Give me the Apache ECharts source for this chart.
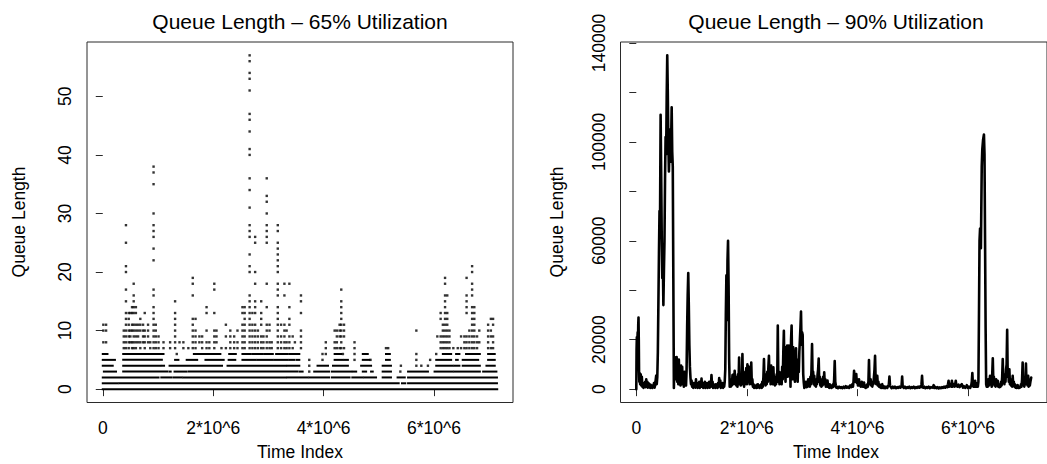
<!DOCTYPE html>
<html><head><meta charset="utf-8">
<script src="https://cdn.jsdelivr.net/npm/echarts@6/dist/echarts.min.js"></script>
<style>html,body{margin:0;padding:0;background:#fff}#c{width:1047px;height:464px}</style>
</head><body><div id="c"></div>
<script>
// ---- units: time positions are stored in units of 1e5; 90% queue values in thousands
const TIME_UNIT = 1e5;
const Q90_UNIT = 1000;

const xTickValues = [0, 2e6, 4e6, 6e6];
const xTickLabels = ['0', '2*10^6', '4*10^6', '6*10^6'];
const yTicks65 = [0, 10, 20, 30, 40, 50];
const yTicks90 = [0, 20000, 40000, 60000, 80000, 100000, 120000, 140000];
const yLabels90 = [0, 20000, 60000, 100000, 140000];

const titles = ['Queue Length \u2013 65% Utilization', 'Queue Length \u2013 90% Utilization'];
const xAxisTitle = 'Time Index';
const yAxisTitle = 'Queue Length';

// ---- 65% utilization: runs of consecutive observations at low queue levels ([start,end] or single position)
const runsQ0 = [[0, 71.45]];
const runsQ1 = [[0, 2.7], [3.0, 53.6], [54.2, 54.8], [55.3, 71.4]];
const runsQ2 = [[0, 10.1], [10.6, 12.5], [12.9, 14.3], [14.6, 33.2], [33.5, 37.1], [37.4, 41.0], [41.5, 44.7], [45.2, 47.1], [47.4, 49.5], [50.7, 52.2], [53.4, 54.7], [55.3, 71.4]];
const runsQ3 = [[0.2, 2.4], [3.7, 11.7], [12.1, 12.3], [13.0, 15.2], [15.6, 35.3], [35.7, 36.2], 37.4, [38.3, 41.0], [41.5, 45.0], [45.3, 45.9], [47.1, 47.7], [48.6, 48.9], [50.7, 52.2], 53.9, [55.3, 58.9], [60.1, 63.4], [63.7, 68.3], [68.9, 71.3]];
const runsQ4 = [[0, 1.8], [3.7, 10.4], [10.7, 11.1], [12.1, 21.6], [22.6, 33.2], [33.5, 35.6], 37.4, [38.9, 40.8], [41.7, 44.4], [46.8, 48.6], [50.7, 52.2], 54.0, 56.8, 57.7, 58.9, [60.4, 63.4], [63.7, 64.6], [65.2, 68.3], [69.5, 71.0]];
const runsQ5 = [[0, 2.2], [3.7, 10.7], [13.1, 13.7], [15.2, 17.1], [18.6, 21.9], [22.8, 24.0], [25.3, 27.7], [28.0, 30.8], [31.1, 33.5], [33.8, 34.7], [35.1, 35.6], 37.4, 39.8, [42.0, 43.5], [43.8, 44.4], 45.6, 48.5, [47.1, 48.3], [51.3, 52.0], 56.8, 59.3, [60.4, 63.1], [64.0, 64.3], [65.2, 68.0], [69.8, 71.0]];
const runsQ6 = [[0, 0.85], [3.7, 11.0], 13.4, [16.5, 20.7], [21.0, 21.3], [22.9, 24.1], [25.3, 26.8], [27.1, 29.0], [29.3, 30.8], [31.4, 33.5], [33.8, 35.6], 39.8, 40.4, [42.0, 43.2], 43.5, 45.6, [47.1, 48.0], [51.3, 52.0], 56.8, 60.4, [61.6, 63.1], [64.0, 64.6], [65.8, 68.3], [69.8, 71.0]];

// ---- 65% utilization: isolated observations at higher levels (time position, levels seen there)
const colX65 = [0.1, 0.6, 3.8, 4.2, 4.7, 5.0, 5.3, 5.6, 6.0, 6.4, 6.8, 7.3, 7.6, 8.2, 8.6, 9.2, 9.6, 10.1, 11.0, 12.2, 13.1, 13.9, 14.6, 15.5, 16.3, 16.8, 17.5, 18.0, 18.8, 19.3, 20.2, 20.6, 21.5, 22.3, 23.1, 23.8, 24.4, 25.3, 25.7, 26.6, 27.1, 27.6, 28.1, 28.7, 29.1, 29.7, 30.2, 30.6, 31.7, 32.3, 32.9, 33.3, 33.8, 34.4, 34.8, 35.9, 40.4, 42.0, 42.4, 42.9, 43.2, 43.7, 45.6, 51.3, 51.7, 56.8, 60.6, 61.2, 61.6, 62.0, 62.4, 62.8, 63.5, 64.3, 64.9, 65.5, 65.9, 66.4, 66.9, 67.3, 67.8, 68.2, 69.8, 70.3, 70.7];
const colLevels65 = [
  [8, 10, 11], [8, 10, 11], [7, 8, 9, 10], [7, 8, 9, 10, 11, 12, 13, 15, 17, 20, 21, 25, 28], [7, 8, 9, 10, 11, 12, 13], [8, 9, 10, 13], [7, 8, 10, 11, 13, 14], [7, 8, 9, 10, 11, 13, 14, 15, 16, 18], [7, 8, 9, 10, 11, 13, 14], [8, 9, 10, 11], [7, 8, 10, 11, 12], [8, 9, 10, 11], [7, 8, 9, 10, 13], [8, 9, 10, 11], [7, 8],
  [7, 8, 9, 10, 11, 12, 13, 14, 16, 17, 22, 24, 26, 27, 28, 30, 35, 37, 38], [7, 8, 9, 10, 11], [7, 8, 9], [7, 8], [7, 8], [7, 8, 9, 10, 11, 12, 13, 15], [8], [7, 8], [7], [7, 8, 9, 10, 11, 12, 16, 18, 19], [7, 8, 9, 10, 12], [8, 9], [7, 8, 9], [7, 8, 10, 13, 14], [7, 8], [7, 8, 9, 10, 13, 17, 18], [8, 9, 10], [7], [7, 9, 11], [7, 8, 9, 10], [7, 8, 9], [7, 8, 10],
  [7, 8, 9, 10, 11, 13, 14], [7, 8, 9, 10, 11, 12, 13, 14],
  [7, 8, 9, 10, 11, 12, 13, 14, 15, 16, 20, 21, 23, 26, 27, 28, 31, 34, 36, 40, 41, 44, 46, 47, 51, 53, 54, 56, 57],
  [7, 8, 9, 10, 11, 13], [7, 8, 9, 10, 11, 13, 14, 15, 18, 20, 25, 26], [7, 8, 9, 10], [7, 8, 9, 11, 12, 13, 15], [7, 8, 9],
  [7, 8, 9, 10, 11, 14, 18, 25, 26, 27, 28, 30, 32, 33, 36], [7, 8, 10, 11], [7, 8],
  [7, 8, 9, 10, 11, 12, 13, 14, 16, 17, 18, 20, 21, 22, 23, 24, 25, 27, 28], [7, 8, 9, 11], [7, 8, 9, 10, 11, 16, 18], [7, 8, 10], [7, 8, 9, 11, 12, 14, 18], [7, 9], [8], [7, 8, 9, 10, 13, 15, 16],
  [7, 8], [7, 8, 10], [7, 8, 9, 10], [7, 9, 10, 11], [7, 8, 9, 10, 11, 12, 13, 14, 15, 17], [7, 9, 10, 11], [7, 8], [7], [7], [10], [9],
  [7, 8, 9, 12, 13], [7, 8, 9, 10, 11], [7, 8, 9, 10, 11, 12, 13, 14, 15, 16, 18, 19], [7, 8, 9, 10, 11, 12, 13, 16], [7, 8, 9, 10], [7], [7], [7, 9], [7, 8, 9], [7, 8, 9, 13, 14, 15, 16, 19], [7, 8, 9, 10],
  [7, 8, 9, 10, 11, 12, 13, 14, 16, 17, 18, 20, 21], [7, 8, 9, 10, 11, 12, 13, 14], [7, 8, 9], [8, 10], [7, 8, 9, 10, 11], [7, 9, 10, 12], [7, 8, 9, 11, 12]
];

// ---- 90% utilization: time position (1e5) and queue length (thousands)
const t90 = [0,0.05,0.1,0.15,0.2,0.25,0.3,0.35,0.4,0.45,0.5,0.55,0.6,0.7,0.8,0.9,1.0,1.1,1.2,1.3,1.4,1.5,1.6,1.7,1.8,1.9,2.0,2.1,2.2,2.3,2.4,2.5,2.6,2.7,2.8,2.9,3.0,3.1,3.2,3.3,3.4,3.5,3.6,3.7,3.8,3.9,4.0,4.1,4.2,4.3,4.4,4.5,4.6,4.7,4.8,4.9,5.0,5.1,5.2,5.3,5.4,5.5,5.6,5.7,5.8,5.9,6.0,6.1,6.2,6.3,6.4,6.5,6.6,6.7,6.8,
6.9,7.0,7.1,7.2,7.3,7.4,7.5,7.6,7.7,7.8,7.9,8.0,8.1,8.2,8.3,8.4,8.5,8.6,8.7,8.8,8.9,9.0,9.1,9.2,9.3,9.4,9.5,9.6,9.7,9.8,9.9,
10.0,10.1,10.2,10.3,10.4,10.5,10.6,10.7,10.8,10.9,11.0,11.1,11.2,11.3,11.4,11.5,11.6,11.7,11.8,11.9,12.0,12.1,12.2,12.3,12.4,12.5,12.6,12.7,12.8,12.9,13.0,13.1,13.2,13.3,13.4,13.5,13.6,13.7,13.8,13.9,14.0,14.1,14.2,14.3,14.4,14.5,14.6,14.7,14.8,14.9,15.0,15.1,15.2,15.3,15.4,15.5,15.6,15.7,15.8,15.9,16.0,
16.1,16.2,16.3,16.4,16.5,16.6,16.7,16.8,16.9,
17.0,17.1,17.2,17.3,17.4,17.5,17.6,17.7,17.8,17.9,18.0,18.1,18.2,18.3,18.4,18.5,18.6,18.7,18.8,18.9,19.0,19.1,19.2,19.3,19.4,19.5,19.6,19.7,19.8,19.9,20.0,20.1,20.2,20.3,20.4,20.5,20.6,20.7,20.8,20.9,21.0,21.1,21.2,21.3,21.4,21.5,21.6,21.7,21.8,21.9,22.0,22.1,22.2,22.3,22.4,22.5,22.6,22.7,22.8,22.9,23.0,
23.1,23.2,23.3,23.4,23.5,23.6,23.7,23.8,23.9,24.0,24.1,24.2,24.3,24.4,24.5,24.6,24.7,24.8,24.9,25.0,25.1,25.2,25.3,25.4,25.5,25.6,25.7,25.8,25.9,26.0,26.1,26.2,26.3,26.4,26.5,26.6,26.7,26.8,26.9,27.0,27.1,27.2,27.3,27.4,27.5,27.6,27.7,27.8,27.9,28.0,28.1,28.2,28.3,28.4,28.5,28.6,28.7,28.8,28.9,29.0,29.1,29.2,29.3,29.4,29.5,29.6,29.7,29.8,29.9,30.0,30.1,30.2,30.3,30.4,
30.5,30.6,30.7,30.8,30.9,31.0,31.1,31.2,31.3,31.4,31.5,31.6,31.7,31.8,31.9,32.0,32.1,32.2,32.3,32.4,32.5,32.6,32.7,32.8,32.9,33.0,33.1,33.2,33.3,33.4,33.5,33.6,33.7,33.8,33.9,34.0,34.1,34.2,34.3,34.4,34.5,34.6,34.7,34.8,34.9,35.0,35.1,35.2,35.3,35.4,35.5,35.6,35.7,35.8,35.9,36.0,36.1,36.2,
36.3,36.5,36.7,36.9,37.1,37.3,37.5,37.7,37.9,38.1,38.3,38.5,38.7,38.9,39.1,39.2,39.3,
39.4,39.5,39.6,39.7,39.8,39.9,40.0,40.1,40.2,40.3,40.4,40.5,40.6,40.7,40.8,40.9,41.0,41.1,41.2,41.3,41.4,41.5,41.6,41.7,41.8,41.9,42.0,42.1,42.2,42.3,42.4,42.5,42.6,42.7,42.8,42.9,43.0,43.1,43.2,43.3,43.4,43.5,43.6,43.7,43.8,43.9,44.0,44.1,44.2,44.3,44.4,44.5,44.6,44.7,44.8,44.9,45.0,45.2,45.4,45.6,45.7,45.8,45.9,46.0,46.2,46.4,46.6,46.8,47.0,47.2,47.4,47.6,47.8,47.9,48.0,48.1,48.2,48.4,48.6,48.8,49.0,49.2,49.4,49.6,49.8,50.0,50.2,50.4,50.6,50.8,51.0,51.2,51.4,51.5,51.6,51.7,51.8,51.9,52.1,52.3,52.5,52.7,52.9,53.1,53.3,53.5,53.7,53.8,53.9,54.1,54.3,54.5,54.7,54.9,55.1,55.3,55.5,55.7,55.9,56.1,56.3,56.4,56.5,56.6,56.8,57.0,57.1,57.2,57.4,57.6,57.7,57.8,57.9,58.1,58.3,58.5,58.7,58.9,59.1,59.3,59.5,59.7,59.8,60.0,60.2,60.4,60.6,60.7,60.8,60.9,61.0,61.1,61.2,61.3,61.4,61.5,61.6,61.7,61.8,
61.9,62.0,62.1,62.2,62.35,62.5,62.6,62.75,62.9,63.0,63.1,63.2,63.3,
63.4,63.5,63.6,63.7,63.8,63.9,64.0,64.1,64.2,64.3,64.4,64.5,64.6,64.7,64.8,64.9,65.0,65.1,65.2,65.3,65.4,65.5,65.6,65.7,65.8,65.9,66.0,66.1,66.2,66.3,66.4,66.5,66.6,66.7,66.8,66.9,67.0,67.1,67.2,67.3,67.4,67.5,67.6,67.7,67.8,67.9,68.0,68.1,68.2,68.3,68.4,68.5,68.6,68.7,68.8,68.9,69.0,69.1,69.2,69.3,69.4,69.5,69.6,69.7,69.8,69.9,70.0,70.1,70.2,70.3,70.4,70.5,70.6,70.7,70.8,70.9,71.0,71.1,71.2,71.3,71.45];
const q90 = [0,16,21,14,20,23,18,26,29,20,7,3,6.5,2,6,1.5,5,1,2.5,0.5,2,1,3,0.8,4,1.5,3,0.6,2.5,1,2,0.5,1.8,0.8,1.5,0.5,1.5,1,2.5,0.6,1.5,3.5,5.5,2,5,15,35,55,72,70,111,88,62,45,52,34,48,60,85,102,95,118,135,120,100,88,97,105,92,100,114,96,90,45,0.5,
13,5,12.5,4,13,3,10,2,12,3,6,1.5,9.5,2.5,9,2,6,1,7,2,5,1.5,8,25,38,47,34,18,9,4.7,2,
3.5,1,2,0.5,2.5,1,2,0.6,4,1,2.5,0.5,2,1,3,0.5,2,1,4.3,1,2.5,0.5,2,1,3,0.5,1.5,1,2.5,0.5,2,1,3,0.6,2.5,1,5.7,2,3,0.5,2,1,1.5,0.5,2,1,1.5,0.5,2.5,1,4.5,2,3.5,0.5,2,1,2.5,0.5,2,1,3,
8,30,46,28,52,60,42,12,1,
3,1,4,1.5,5.7,2,6,2.5,7.4,2,5,1.5,4,1,6,2,12.8,3,6,1.5,5,2,14.2,3,7,1,4,2,5,8.5,2,10,8.5,3,9,2,8,3,10.8,2,4,1,2,0.5,1.5,0.8,1.2,0.5,1.8,0.6,2,0.8,1.5,0.5,1.5,1,2,0.5,3,1,5,
12.2,3,6,1.5,4,2,7,3,9,13.5,4,8,2,9.5,3,7,2,8.8,3,5,1.5,4,2,6,3,25.7,4,7,2,5,3,6.8,2,9,4,15,23.6,6,10,3,17,8,17.6,5,12,17.6,6,15,1,20,25.7,10,4,16.9,6,10,3,12,16.5,5,9,3,12,7,15,20,25,31.4,18,23,22,6,2.7,0.5,
2,1,3,0.8,2,1,4,1.5,3,1,5,2,8,18.2,4,7,2,5.4,1.5,3,1,4,2,6,8,12.4,3,5,1.5,4,1,3,1.5,5,2,6.8,2,4,1,2.5,1,3.5,1,2,0.5,2,1,1.5,0.5,1.5,0.8,2,1,4,11.4,3,1.5,0.6,
1,0.4,1,0.5,0.8,0.4,1,0.5,1.2,0.6,1,0.5,1.5,0.8,2,1,3,
7.4,5,3,4,6.1,2.5,4,1.5,3,4,1.5,2.5,1,2,3,1,2.5,1,2.7,0.8,1.5,0.5,1.5,0.8,2,1,3,11.8,3,2,4,1.5,2.5,1,3,2,5,8,13.5,4,2,3,5.4,1.5,3,1,2,0.8,1.5,0.5,1.5,2,0.5,1.2,0.5,1,0.4,1,0.5,1.5,2,5.1,1.5,1,0.4,1,0.5,1,0.4,0.8,0.5,1,0.6,1,1.5,5.1,1,0.5,1,0.4,0.8,0.5,1,0.4,0.8,0.5,1,0.4,0.8,0.5,1,0.6,1.2,0.8,2,5.4,1.5,0.6,1,0.4,0.8,0.5,1,0.4,0.8,0.6,1,1.6,0.5,0.9,0.4,0.8,0.3,0.7,0.4,0.8,0.5,1,0.6,1.2,0.8,2,3.4,1,2,1,3.4,1,2,1,2,3.4,1.5,1,1.8,0.8,1.5,2,0.6,1.2,0.5,1,1.6,0.5,1,0.5,1.5,3,6.5,2,1,2,1,3.4,1,2,1,2.5,1,
3,30,60,65,57,90,97,101,103,95,60,25,2,
1,3,1,4,1.5,3,5.4,2,4,1,6,12.5,3,5,1.5,3,1,4,1.5,2.5,3.4,1,2,0.8,2,1,3,1.5,5,12.2,3,5,2,6,3,8,10,24,5,8,3,8,2,4,1.5,3,1,5.4,1.5,3,1,2,0.6,1.5,0.5,1.2,1.6,0.5,1,0.5,1,0.8,2,1,4,10.8,2,3,1,3,2,10.4,2,5,1.5,5.4,1,3,1.5,3,4.7];

// ---------------- build series data from the arrays above ----------------
const runLevels = [runsQ0, runsQ1, runsQ2, runsQ3, runsQ4, runsQ5, runsQ6];
const runData = [];
const pointData = [];
runLevels.forEach(function (runs, level) {
  runs.forEach(function (r) {
    if (Array.isArray(r)) runData.push([r[0] * TIME_UNIT, r[1] * TIME_UNIT, level]);
    else pointData.push([r * TIME_UNIT, level]);
  });
});
colX65.forEach(function (x, i) {
  colLevels65[i].forEach(function (lv) { pointData.push([x * TIME_UNIT, lv]); });
});
const lineData90 = t90.map(function (t, i) { return [t * TIME_UNIT, q90[i] * Q90_UNIT]; });

// axis ranges: R style 4% padding around the data range
const tMax = 7.145e6;
const xPad = 0.04 * tMax;
const q65Max = 57, q90Max = 135000;

const FONT = 'Liberation Sans, Arial, Helvetica, sans-serif';
const axisCol = '#2a2a2a';

function xAxisCfg(gi) {
  return {
    type: 'value', gridIndex: gi, min: -xPad, max: tMax + xPad,
    axisLine: { show: false }, splitLine: { show: false },
    axisTick: { show: true, customValues: xTickValues, length: 7, lineStyle: { color: axisCol, width: 1 } },
    axisLabel: {
      customValues: xTickValues, margin: 16, color: '#000', fontSize: 17.5, fontFamily: FONT,
      formatter: function (v) { const k = xTickValues.indexOf(v); return k >= 0 ? xTickLabels[k] : ''; }
    }
  };
}
function yAxisCfg(gi, max, ticks, labels) {
  return {
    type: 'value', gridIndex: gi, min: -0.04 * max, max: max * 1.04,
    axisLine: { show: false }, splitLine: { show: false },
    axisTick: { show: true, customValues: ticks, length: 7, lineStyle: { color: axisCol, width: 1 } },
    axisLabel: {
      customValues: labels, rotate: 90, margin: 13, color: '#000', fontSize: 17.5, fontFamily: FONT,
      formatter: function (v) { return String(v); }
    }
  };
}

const chart = echarts.init(document.getElementById('c'), null, { renderer: 'svg', width: 1047, height: 464 });
chart.setOption({
  animation: false,
  backgroundColor: '#fff',
  grid: [
    { left: 87, top: 42, width: 426, height: 360.5, show: true, borderColor: axisCol, borderWidth: 1, backgroundColor: 'transparent' },
    { left: 620.5, top: 42, width: 428, height: 360.5, show: true, borderColor: axisCol, borderWidth: 1, backgroundColor: 'transparent' }
  ],
  xAxis: [xAxisCfg(0), xAxisCfg(1)],
  yAxis: [yAxisCfg(0, q65Max, yTicks65, yTicks65), yAxisCfg(1, q90Max, yTicks90, yLabels90)],
  series: [
    {
      type: 'custom', xAxisIndex: 0, yAxisIndex: 0, data: runData, encode: { x: [0, 1], y: 2 }, silent: true,
      renderItem: function (params, api) {
        const lv = api.value(2);
        const a = api.coord([api.value(0), lv]);
        const b = api.coord([api.value(1), lv]);
        return { type: 'rect', shape: { x: a[0] - 1, y: a[1] - 1, width: b[0] - a[0] + 2, height: 2 }, style: { fill: '#000' } };
      }
    },
    {
      type: 'scatter', xAxisIndex: 0, yAxisIndex: 0, data: pointData, symbol: 'rect', symbolSize: 2.4,
      itemStyle: { color: '#000' }, silent: true
    },
    {
      type: 'line', xAxisIndex: 1, yAxisIndex: 1, data: lineData90, showSymbol: false, symbol: 'none',
      sampling: null, lineStyle: { color: '#000', width: 2.6, join: 'round', cap: 'round' }, silent: true
    }
  ],
  graphic: [
    { type: 'text', x: 300, y: 21, style: { text: titles[0], fontSize: 21, fontFamily: FONT, fill: '#000', align: 'center', verticalAlign: 'middle' } },
    { type: 'text', x: 836, y: 21, style: { text: titles[1], fontSize: 21, fontFamily: FONT, fill: '#000', align: 'center', verticalAlign: 'middle' } },
    { type: 'text', x: 300, y: 452, style: { text: xAxisTitle, fontSize: 17.5, fontFamily: FONT, fill: '#000', align: 'center', verticalAlign: 'middle' } },
    { type: 'text', x: 836, y: 452, style: { text: xAxisTitle, fontSize: 17.5, fontFamily: FONT, fill: '#000', align: 'center', verticalAlign: 'middle' } },
    { type: 'text', x: 19, y: 222, rotation: Math.PI / 2, style: { text: yAxisTitle, fontSize: 17.5, fontFamily: FONT, fill: '#000', align: 'center', verticalAlign: 'middle' } },
    { type: 'text', x: 557, y: 222, rotation: Math.PI / 2, style: { text: yAxisTitle, fontSize: 17.5, fontFamily: FONT, fill: '#000', align: 'center', verticalAlign: 'middle' } }
  ]
});
</script>
</body></html>
